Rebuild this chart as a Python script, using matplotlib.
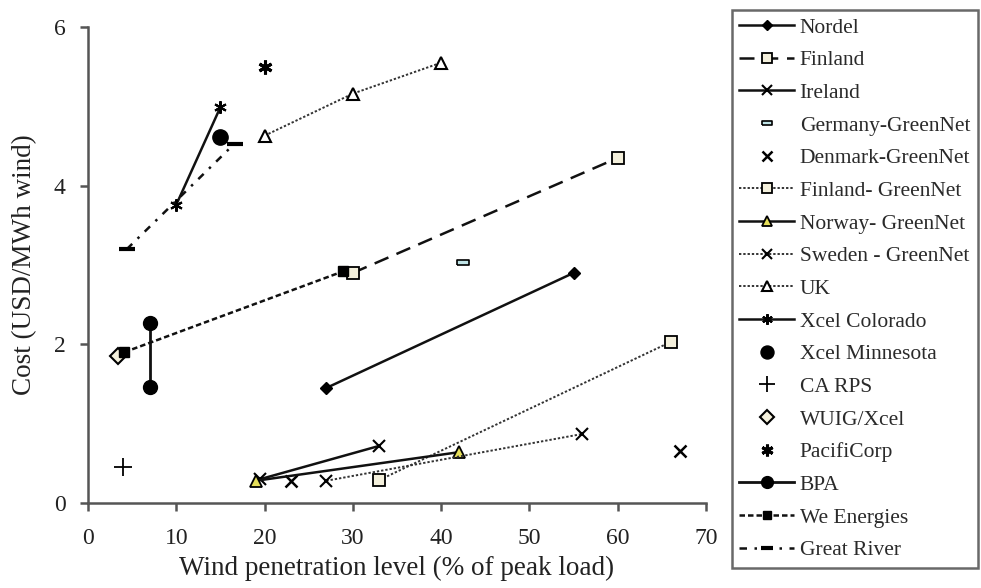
import matplotlib
matplotlib.use("Agg")
import matplotlib.pyplot as plt
import numpy as np

plt.rcParams['font.family'] = ['Liberation Serif', 'DejaVu Serif']

# ---- data ----
nordel_x = [27, 55]
nordel_y = [1.45, 2.90]
finland_x = [30, 60]
finland_y = [2.90, 4.35]
ireland_x = [19.5, 33]
ireland_y = [0.30, 0.72]
germany_x = [42.5]
germany_y = [3.04]
denmark_x = [23, 67]
denmark_y = [0.28, 0.65]
finland_gn_x = [33, 66]
finland_gn_y = [0.29, 2.03]
norway_gn_x = [19, 42]
norway_gn_y = [0.28, 0.64]
sweden_gn_x = [27, 56]
sweden_gn_y = [0.28, 0.87]
uk_x = [20, 30, 40]
uk_y = [4.63, 5.16, 5.55]
xcel_col_x = [10, 15]
xcel_col_y = [3.76, 4.99]
xcel_min_x = [15]
xcel_min_y = [4.61]
carps_x = [4]
carps_y = [0.45]
wuig_x = [3.4]
wuig_y = [1.85]
pacificorp_x = [20]
pacificorp_y = [5.50]
bpa_x = [7, 7]
bpa_y = [1.46, 2.27]
we_x = [4.1, 28.9]
we_y = [1.90, 2.92]
great_river_x = [4.4, 16.6]
great_river_y = [3.20, 4.53]

x_ticks = [0, 10, 20, 30, 40, 50, 60, 70]
y_ticks = [0, 2, 4, 6]

cream = '#f4f0dc'
yellow = '#e6df5a'
lc = '#111111'

fig = plt.figure(figsize=(9.81, 5.88), dpi=100)
ax = fig.add_axes([0.0897, 0.1446, 0.630, 0.8095])

rect = [(-1, -0.4), (1, -0.4), (1, 0.4), (-1, 0.4), (-1, -0.4)]
dot = (0, (1.2, 1.0))

h = []
h += ax.plot(nordel_x, nordel_y, '-', color=lc, lw=1.8, marker='D', ms=6, mfc='black', mec='black', label='Nordel')
h += ax.plot(finland_x, finland_y, color=lc, lw=1.8, ls=(0, (6, 3.5)), marker='s', ms=8, mfc=cream, mec='black', mew=1.3, label='Finland')
h += ax.plot(ireland_x, ireland_y, '-', color=lc, lw=1.8, marker='x', ms=8, mec='black', mew=1.5, label='Ireland')
h += ax.plot(germany_x, germany_y, ls='none', marker=rect, ms=9, mfc='#bfe3e6', mec='black', mew=1.2, label='Germany-GreenNet')
h += ax.plot(denmark_x, denmark_y, ls='none', marker='x', ms=8, mec='black', mew=1.8, label='Denmark-GreenNet')
h += ax.plot(finland_gn_x, finland_gn_y, color='#333333', lw=1.4, ls=dot, marker='s', ms=8, mfc=cream, mec='black', mew=1.3, label='Finland- GreenNet')
h += ax.plot(norway_gn_x, norway_gn_y, '-', color=lc, lw=1.8, marker='^', ms=8, mfc=yellow, mec='black', mew=1.3, label='Norway- GreenNet')
h += ax.plot(sweden_gn_x, sweden_gn_y, color='#333333', lw=1.4, ls=dot, marker='x', ms=8, mec='black', mew=1.5, label='Sweden - GreenNet')
h += ax.plot(uk_x, uk_y, color='#333333', lw=1.4, ls=dot, marker='^', ms=8, mfc='white', mec='black', mew=1.5, label='UK')
h += ax.plot(xcel_col_x, xcel_col_y, '-', color=lc, lw=1.8, marker=(6, 2, 0), ms=9, mec='black', mew=1.5, label='Xcel Colorado')
h += ax.plot(xcel_min_x, xcel_min_y, ls='none', marker='o', ms=11, mfc='black', mec='black', label='Xcel Minnesota')
h += ax.plot(carps_x, carps_y, ls='none', marker='+', ms=13, mec='black', mew=1.3, label='CA RPS')
h += ax.plot(wuig_x, wuig_y, ls='none', marker='D', ms=8, mfc=cream, mec='black', mew=1.5, label='WUIG/Xcel')
h += ax.plot(pacificorp_x, pacificorp_y, ls='none', marker=(6, 2, 0), ms=10, mec='black', mew=2.2, label='PacifiCorp')
h += ax.plot(bpa_x, bpa_y, '-', color=lc, lw=2.0, marker='o', ms=10, mfc='black', mec='black', label='BPA')
h += ax.plot(we_x, we_y, color=lc, lw=1.8, ls=(0, (2.2, 1.2)), marker='s', ms=7, mfc='black', mec='black', label='We Energies')
h += ax.plot(great_river_x, great_river_y, color=lc, lw=1.8, ls=(0, (3, 3, 1, 3)), marker='_', ms=11, mec='black', mew=3, label='Great River')

ax.set_xlim(0, 70)
ax.set_ylim(0, 6)
ax.set_xticks(x_ticks)
ax.set_yticks(y_ticks)
for s in ['top', 'right']:
    ax.spines[s].set_visible(False)
for s in ['left', 'bottom']:
    ax.spines[s].set_color('#555555')
    ax.spines[s].set_linewidth(1.8)
ax.tick_params(direction='out', length=6, width=1.8, color='#555555', labelsize=17, labelcolor='#222222')
ax.tick_params(axis='x', pad=12)
ax.tick_params(axis='y', pad=10)
ax.set_xlabel('Wind penetration level (% of peak load)', fontsize=19.5, labelpad=5, color='#222222')
ax.set_ylabel('Cost (USD/MWh wind)', fontsize=19.5, labelpad=12, color='#222222')

leg = fig.legend(handles=h, loc='upper left', bbox_to_anchor=(0.746, 0.983),
                 fontsize=15.5, frameon=True, fancybox=False, shadow=False,
                 handlelength=2.55, handletextpad=0.25, labelspacing=0.585,
                 borderpad=0.35, borderaxespad=0, markerscale=0.85)
leg.get_frame().set_edgecolor('#444444')
leg.get_frame().set_linewidth(1.8)
for t in leg.get_texts():
    t.set_color('#2a2a2a')

fig.savefig('out.png', dpi=100)
